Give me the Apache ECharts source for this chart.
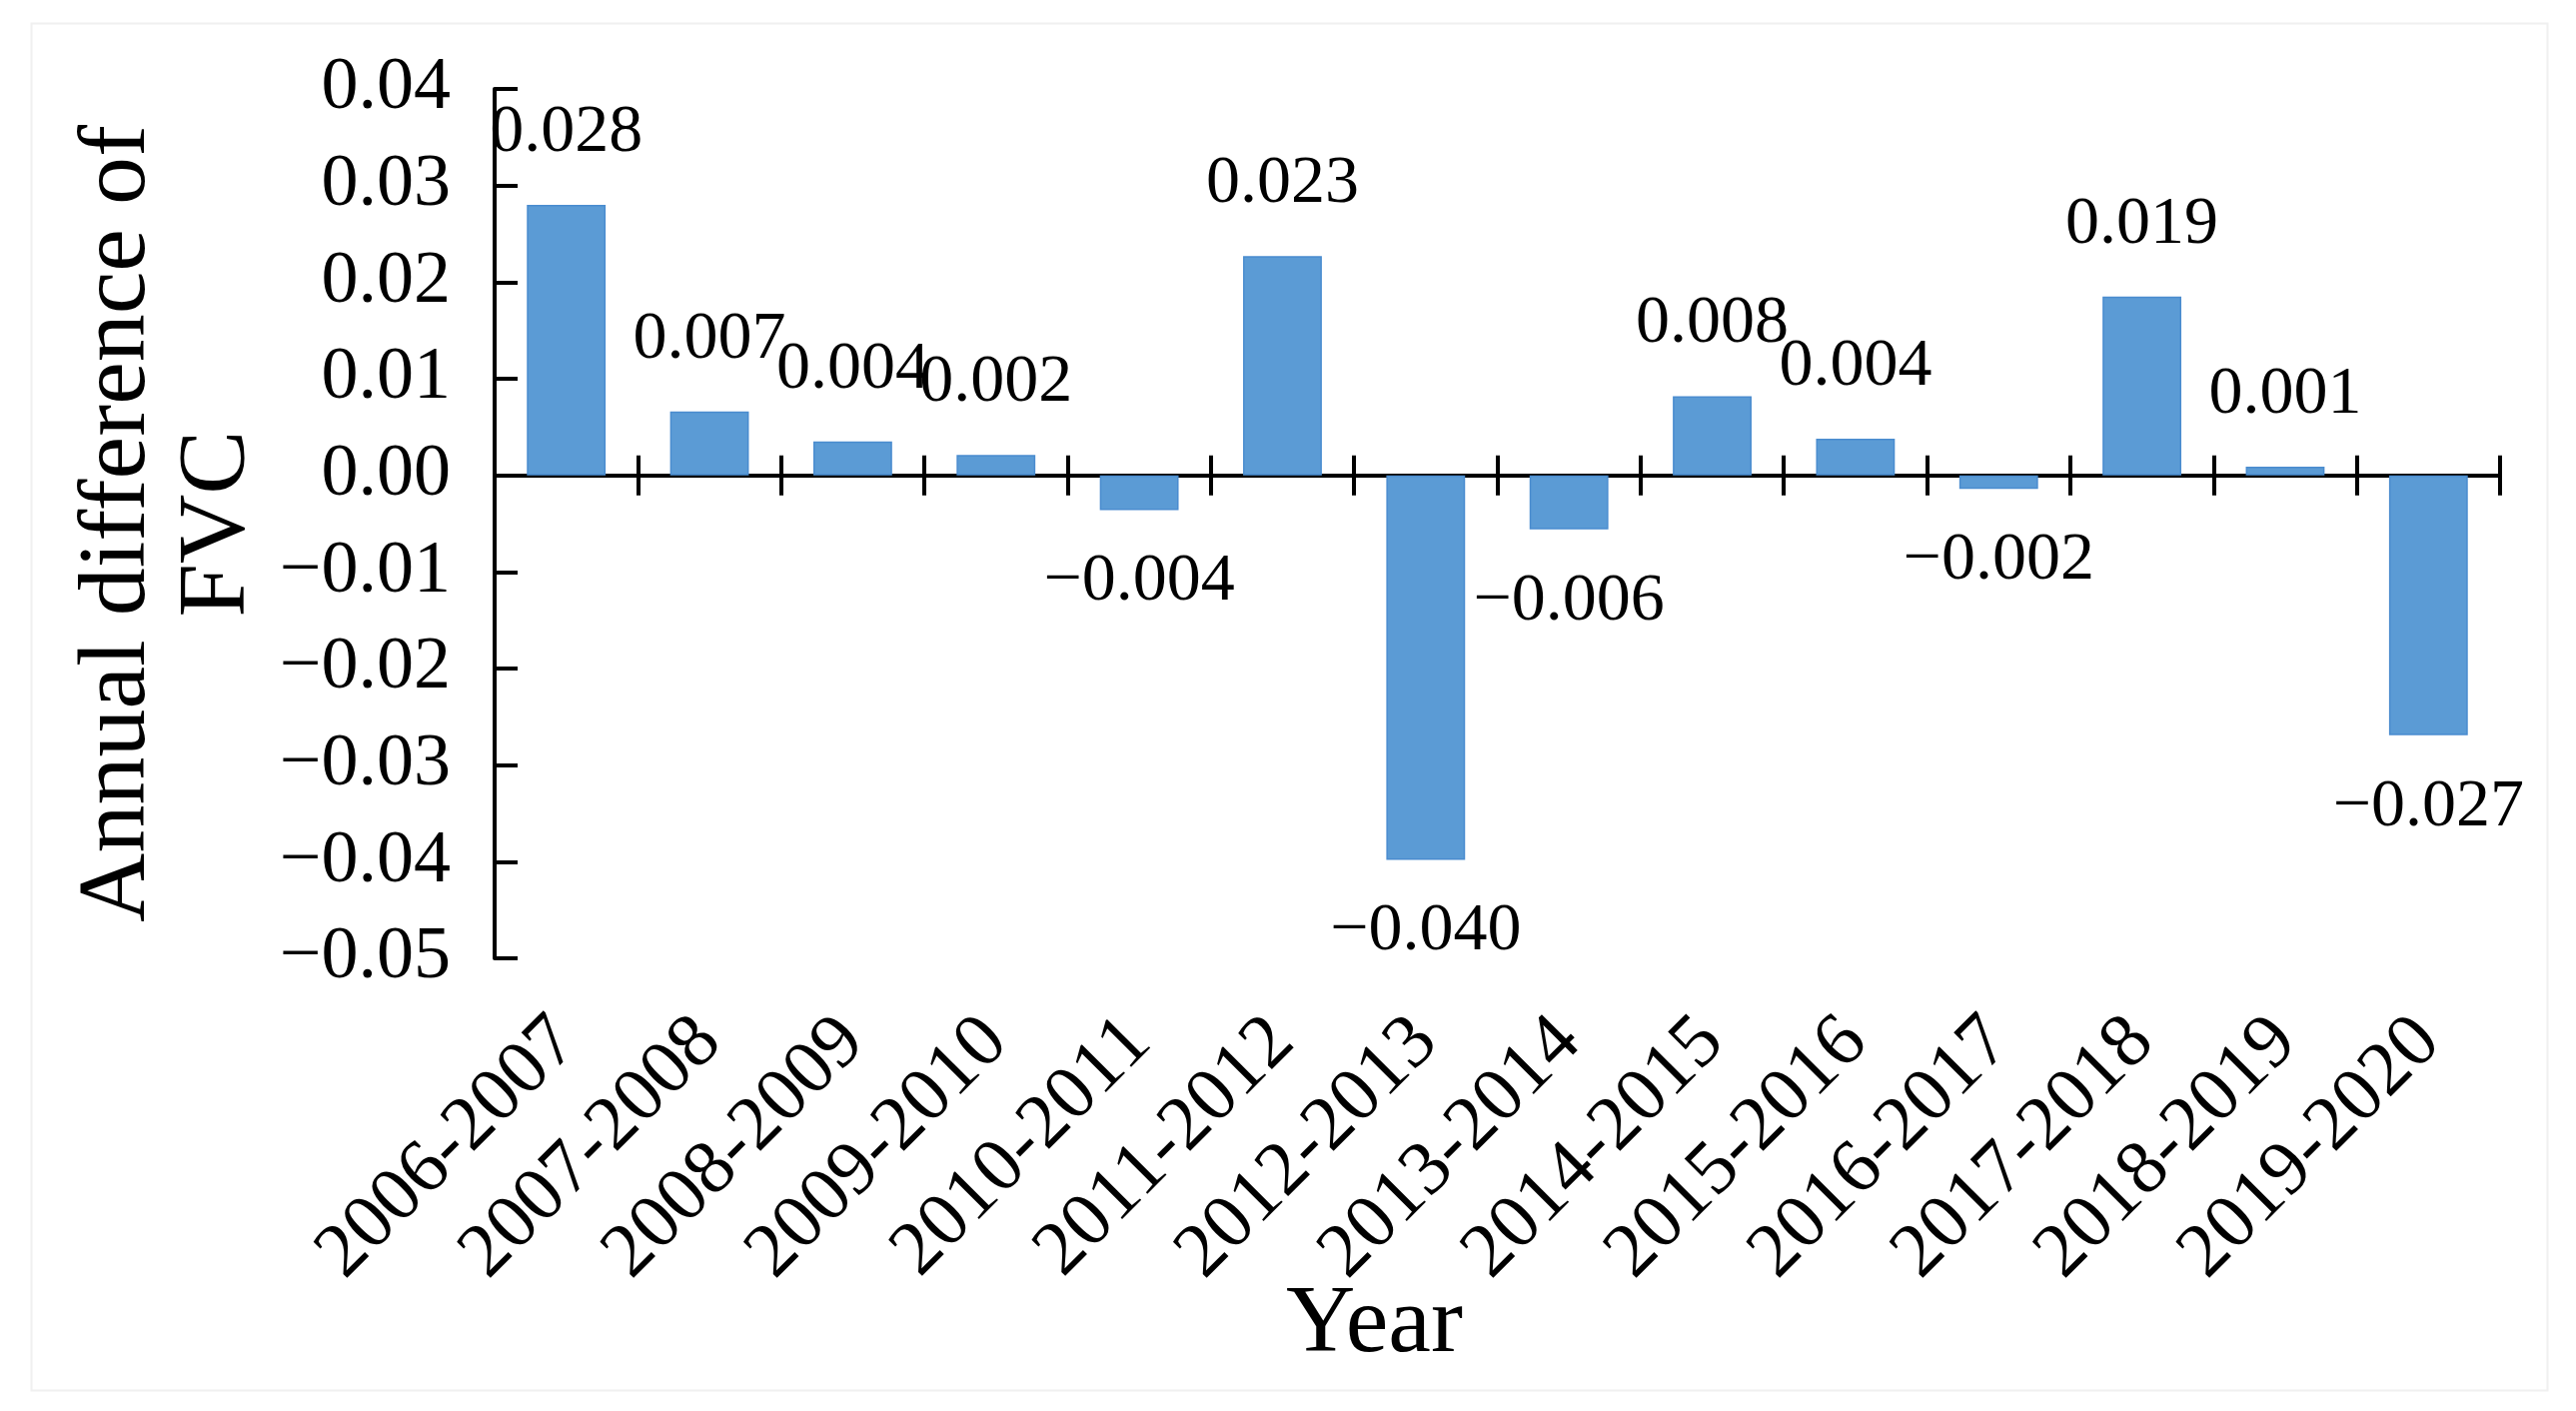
<!DOCTYPE html>
<html>
<head>
<meta charset="utf-8">
<script src="https://cdn.jsdelivr.net/npm/echarts@6/dist/echarts.min.js"></script>
<style>
html,body{margin:0;padding:0;background:#fff;}
#chart{width:2578px;height:1412px;}
</style>
</head>
<body>
<div id="chart"></div>
<script>
const categories = ['2006-2007','2007-2008','2008-2009','2009-2010','2010-2011','2011-2012','2012-2013','2013-2014','2014-2015','2015-2016','2016-2017','2017-2018','2018-2019','2019-2020'];
const fvcDiff = [0.0280, 0.0066, 0.0035, 0.0021, -0.0036, 0.0227, -0.0398, -0.0056, 0.0082, 0.0038, -0.0014, 0.0185, 0.0009, -0.0269];
const labelTexts = ['0.028','0.007','0.004','0.002','\u22120.004','0.023','\u22120.040','\u22120.006','0.008','0.004','\u22120.002','0.019','0.001','\u22120.027'];
const yMin = -0.05, yMax = 0.04, yStep = 0.01;
const yAxisTitle = 'Annual difference of\nFVC';
const xAxisTitle = 'Year';

const FONT = '"Liberation Serif", "Times New Roman", serif';
const chart = echarts.init(document.getElementById('chart'), null, {renderer: 'canvas'});

const barData = fvcDiff.map((v, i) => ({
  value: v,
  label: {position: v >= 0 ? 'top' : 'bottom', formatter: labelTexts[i]}
}));

chart.setOption({
  backgroundColor: '#ffffff',
  animation: false,
  graphic: [{
    type: 'rect', left: 29, top: 21, silent: true,
    shape: {width: 2518, height: 1368},
    style: {fill: 'none', stroke: '#f0f0f0', lineWidth: 2}
  }],
  title: {
    text: xAxisTitle, left: 1282, top: 1272,
    textStyle: {fontFamily: FONT, fontSize: 96, fontWeight: 'normal', color: '#000', lineHeight: 100}
  },
  grid: {left: 495, right: 76, top: 89, bottom: 453, containLabel: false, outerBoundsMode: 'none'},
  xAxis: [{
    // category labels along the bottom of the plot
    type: 'category', data: categories, position: 'bottom',
    axisLine: {show: false, onZero: false},
    axisTick: {show: false},
    axisLabel: {rotate: 45, margin: 72, fontFamily: FONT, fontSize: 77, color: '#000', interval: 0,
                hideOverlap: false, showMinLabel: true, showMaxLabel: true},
    splitLine: {show: false}
  }, {
    // zero line with downward ticks
    type: 'category', data: categories, position: 'bottom',
    axisLine: {show: true, onZero: true, onZeroAxisIndex: 0, lineStyle: {color: '#000', width: 4}},
    axisTick: {show: true, inside: false, length: 20, lineStyle: {color: '#000', width: 4}},
    axisLabel: {show: false},
    splitLine: {show: false}
  }, {
    // zero line with upward ticks
    type: 'category', data: categories, position: 'top',
    axisLine: {show: true, onZero: true, onZeroAxisIndex: 1, lineStyle: {color: '#000', width: 4}},
    axisTick: {show: true, inside: false, length: 20, lineStyle: {color: '#000', width: 4}},
    axisLabel: {show: false},
    splitLine: {show: false}
  }],
  yAxis: [{
    type: 'value', min: yMin, max: yMax, interval: yStep,
    name: yAxisTitle, nameLocation: 'middle', nameGap: 210,
    nameTextStyle: {fontFamily: FONT, fontSize: 96, color: '#000', lineHeight: 100},
    axisLine: {show: true, lineStyle: {color: '#000', width: 4}},
    axisTick: {show: true, inside: true, length: 23, lineStyle: {color: '#000', width: 4}},
    axisLabel: {
      margin: 44, fontFamily: FONT, fontSize: 74, color: '#000',
      showMinLabel: true, showMaxLabel: true, hideOverlap: false,
      formatter: v => (v < -1e-9 ? '\u2212' : '') + Math.abs(v).toFixed(2)
    },
    splitLine: {show: false}
  }, {
    type: 'value', min: yMin, max: yMax, interval: yStep, position: 'right',
    axisLine: {show: false}, axisTick: {show: false}, axisLabel: {show: false},
    splitLine: {show: false}
  }],
  series: [{
    type: 'bar', xAxisIndex: 0, yAxisIndex: 0,
    data: barData,
    barCategoryGap: '45%',
    itemStyle: {color: '#5b9bd5', borderColor: '#4a8ccf', borderWidth: 1.5},
    label: {show: true, distance: 38, fontFamily: FONT, fontSize: 68, lineHeight: 68, color: '#000'},
    z: 1
  }]
});
</script>
</body>
</html>
